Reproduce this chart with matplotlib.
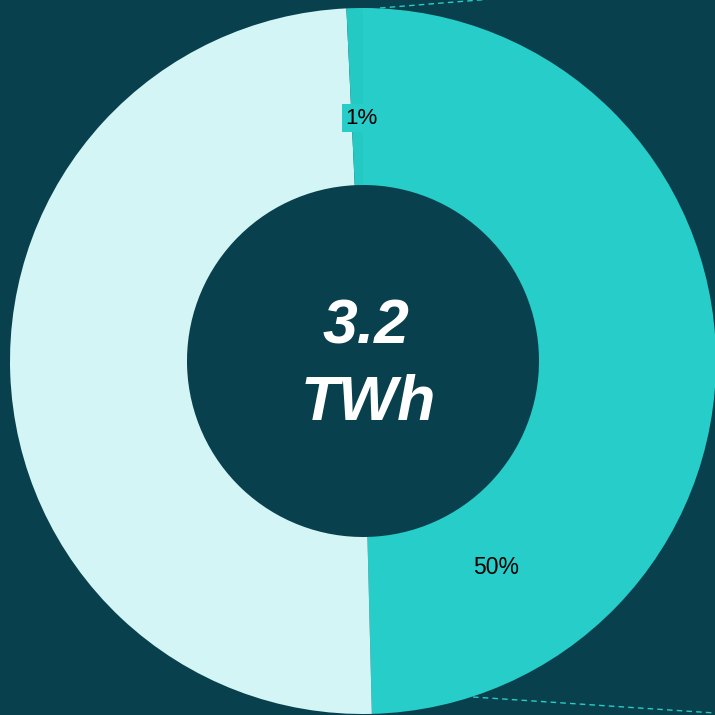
import matplotlib
matplotlib.use("Agg")
import matplotlib.pyplot as plt
import numpy as np

# Data
categories = ["Share A", "Share B", "Share C"]
values = [49.6, 49.65, 0.75]
labels = ["50%", "", "1%"]
center_value = "3.2"
center_unit = "TWh"

BG = "#08404d"
colors = ["#27cdc8", "#d3f5f5", "#25c9c4"]

fig = plt.figure(figsize=(7.15, 7.15), dpi=100, facecolor=BG)
ax = fig.add_axes([0, 0, 1, 1])
ax.set_facecolor(BG)

cx, cy = 363, 715 - 361
R_out, R_in = 353, 176

wedges, _ = ax.pie(values, colors=colors, startangle=90, counterclock=False,
                   radius=R_out, center=(cx, cy), frame=True,
                   wedgeprops=dict(width=R_out - R_in, linewidth=0))
ax.set_xlim(0, 715)
ax.set_ylim(0, 715)
ax.set_aspect("equal")
ax.axis("off")

# dashed connector lines
ax.plot([380, 492], [715 - 8, 715 + 1], ls=(0, (4, 3)), color="#27cdc8", lw=1, clip_on=True)
ax.plot([473, 715], [715 - 697, 715 - 713], ls=(0, (4, 3)), color="#27cdc8", lw=1, clip_on=True)

# slice labels
ax.text(496, 715 - 567, labels[0], ha="center", va="center", fontsize=16.5,
        family="Liberation Sans", color="black")
ax.text(361, 715 - 118, labels[2], ha="center", va="center", fontsize=16,
        family="Liberation Sans", color="black",
        bbox=dict(boxstyle="square,pad=0.15", facecolor="#27cdc8", edgecolor="none"))

# center text
ax.text(366, 715 - 327, center_value, ha="center", va="center", fontsize=45,
        family="Liberation Sans", fontweight="bold", fontstyle="italic", color="white")
ax.text(368, 715 - 403, center_unit, ha="center", va="center", fontsize=45,
        family="Liberation Sans", fontweight="bold", fontstyle="italic", color="white")

fig.savefig("out.png", dpi=100, facecolor=BG)
